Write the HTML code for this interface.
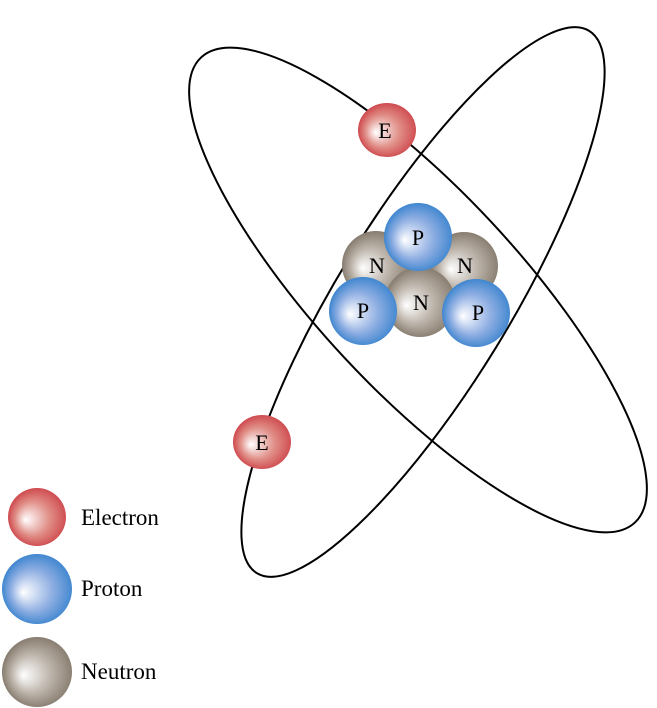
<!DOCTYPE html>
<html><head><style>html,body{margin:0;padding:0;background:#fff}svg{display:block}</style></head>
<body>
<svg width="657" height="708" viewBox="0 0 657 708" xmlns="http://www.w3.org/2000/svg" font-family="Liberation Serif, serif">
<defs>
<radialGradient id="gE" cx="0.55" cy="0.5" r="0.6" fx="0.3" fy="0.55">
<stop offset="0" stop-color="#ffffff"/><stop offset="0.5" stop-color="#e08d86"/><stop offset="0.85" stop-color="#cf4a4f"/><stop offset="1" stop-color="#c0172c"/></radialGradient>
<radialGradient id="gP" cx="0.55" cy="0.5" r="0.6" fx="0.3" fy="0.55">
<stop offset="0" stop-color="#ffffff"/><stop offset="0.5" stop-color="#8eaee2"/><stop offset="0.85" stop-color="#3f86cf"/><stop offset="1" stop-color="#0872bd"/></radialGradient>
<radialGradient id="gN" cx="0.55" cy="0.5" r="0.6" fx="0.3" fy="0.55">
<stop offset="0" stop-color="#ffffff"/><stop offset="0.5" stop-color="#b8afa5"/><stop offset="0.85" stop-color="#877c6f"/><stop offset="1" stop-color="#6a5f51"/></radialGradient>
</defs>
<g fill="none" stroke="#000" stroke-width="2">
<ellipse cx="418" cy="290" rx="318" ry="100" transform="rotate(47 418 290)"/>
<ellipse cx="423" cy="302" rx="318" ry="86" transform="rotate(-58.5 423 302)"/>
</g>
<g font-size="22" text-anchor="middle">
<circle cx="376" cy="265" r="34" fill="url(#gN)"/>
<circle cx="464" cy="266" r="34" fill="url(#gN)"/>
<circle cx="420" cy="302" r="35" fill="url(#gN)"/>
<circle cx="418" cy="237" r="34" fill="url(#gP)"/>
<circle cx="363" cy="311" r="34" fill="url(#gP)"/>
<circle cx="476" cy="313" r="34" fill="url(#gP)"/>
<text x="377" y="273">N</text><text x="465" y="273">N</text><text x="421" y="310">N</text>
<text x="418" y="245">P</text><text x="363" y="318">P</text><text x="478" y="320">P</text>
<ellipse cx="387" cy="130" rx="29" ry="27" fill="url(#gE)"/>
<text x="385" y="138">E</text>
<ellipse cx="262" cy="442" rx="29" ry="27" fill="url(#gE)"/>
<text x="262" y="450">E</text>
</g>
<circle cx="37" cy="517" r="29" fill="url(#gE)"/>
<circle cx="37" cy="589" r="35" fill="url(#gP)"/>
<circle cx="37" cy="672" r="35" fill="url(#gN)"/>
<g font-size="23">
<text x="81" y="525">Electron</text>
<text x="81" y="596">Proton</text>
<text x="81" y="679">Neutron</text>
</g>
</svg>
</body></html>
